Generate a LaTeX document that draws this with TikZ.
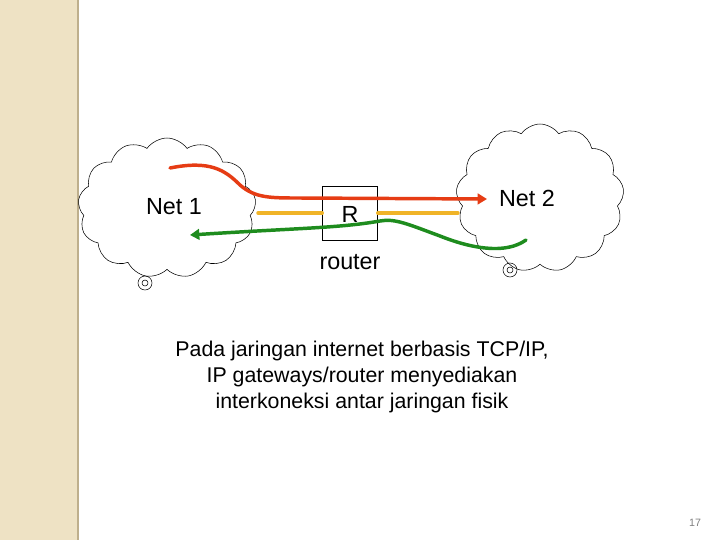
\documentclass[tikz,border=0pt]{standalone}
\usepackage{fontspec}
\setmainfont{Liberation Sans}
\usetikzlibrary{shapes.symbols,arrows.meta}
\begin{document}
\begin{tikzpicture}[x=0.75pt,y=-0.75pt,
  cl/.style={cloud,draw,cloud puffs=13,cloud puff arc=110,aspect=1.2,inner sep=0pt},
  pth/.style={line width=2.6pt,line cap=round},
  lbl/.style={font=\fontsize{17.5}{20}\selectfont}]
\useasboundingbox (0,0) rectangle (720,540);
\fill[fill=white] (0,0) rectangle (720,540);
\fill[fill={rgb,255:red,238;green,226;blue,196}] (0,0) rectangle (78,540);
\draw[color={rgb,255:red,190;green,175;blue,140}, line width=1pt] (78,0) -- (78,540);
\node[cl,minimum width=178*0.75pt,minimum height=140*0.75pt] (c1) at (167,208) {};
\node[cl,minimum width=168*0.75pt,minimum height=148*0.75pt] (c2) at (540,198) {};
\node[draw,circle,minimum size=14*0.75pt,inner sep=0] (s1) at (145,283) {};
\node[draw,circle,minimum size=6*0.75pt,inner sep=0] at (s1) {};
\node[draw,circle,minimum size=14*0.75pt,inner sep=0] (s2) at (510,270) {};
\node[draw,circle,minimum size=6*0.75pt,inner sep=0] at (s2) {};
\node[draw,minimum width=55*0.75pt,minimum height=54*0.75pt,inner sep=0] (r) at (350,213) {};
\node[lbl] (rl) at (350,214) {R};
\node[lbl] (rt) at (350,262) {router};
\node[lbl] (n1) at (174,207) {Net 1};
\node[lbl] (n2) at (527,198) {Net 2};
\coordinate (o1) at (258,213); \coordinate (o2) at (458,213);
\draw[pth,color={rgb,255:red,240;green,180;blue,40}] (o1) -- (r.west);
\draw[pth,color={rgb,255:red,240;green,180;blue,40}] (r.east) -- (o2);
\coordinate (ra) at (170,168); \coordinate (rb) at (487,199);
\draw[pth,color={rgb,255:red,230;green,60;blue,20},-{Triangle[length=7pt,width=8pt]}]
  (ra) .. controls (210,160) and (225,170) .. (240,185) .. controls (255,198) and (270,198) .. (300,198) -- (rb);
\coordinate (ga) at (526,240); \coordinate (gb) at (190,235);
\draw[pth,color={rgb,255:red,30;green,140;blue,30},-{Triangle[length=7pt,width=8pt]}]
  (ga) .. controls (505,255) and (470,248) .. (440,236) .. controls (410,225) and (395,218) .. (380,221) .. controls (340,228) and (300,228) .. (gb);
\node[align=center,font=\fontsize{16}{19.5}\selectfont] (t) at (362,377) {Pada jaringan internet berbasis TCP/IP,\\IP gateways/router menyediakan\\interkoneksi antar jaringan fisik};
\node[font=\fontsize{8}{9}\selectfont,color=gray] (pg) at (695,523) {17};
\end{tikzpicture}
\end{document}
